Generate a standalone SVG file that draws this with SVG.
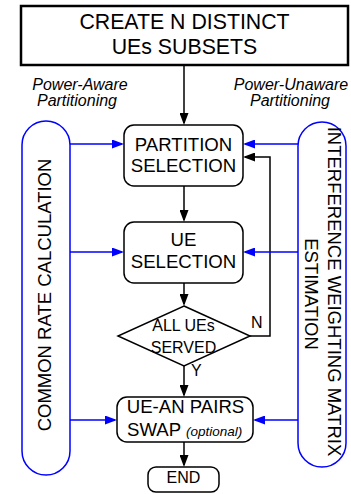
<svg xmlns="http://www.w3.org/2000/svg" width="351" height="494" viewBox="0 0 351 494">
  <style>
    text { font-family: "Liberation Sans", Arial, sans-serif; fill: #000; text-anchor: middle; }
    .big { font-size: 21.3px; }
    .lbl { font-size: 18.6px; }
    .side { font-size: 18.5px; }
    .small { font-size: 16px; }
    .ital { font-size: 16px; font-style: italic; }
    .box { fill: #fff; stroke: #000; stroke-width: 1.5; }
    .cap { fill: none; stroke: #0000ff; stroke-width: 1.5; }
    .flow { fill: none; stroke: #000; stroke-width: 1.5; marker-end: url(#ah); }
    .feed { fill: none; stroke: #0000ff; stroke-width: 1.5; marker-end: url(#ahb); }
  </style>
  <defs>
    <marker id="ah" viewBox="0 0 12 9" refX="10" refY="4.5" markerWidth="12" markerHeight="9" markerUnits="userSpaceOnUse" orient="auto">
      <path d="M0,0 L12,4.5 L0,9 z" fill="#000"/>
    </marker>
    <marker id="ahb" viewBox="0 0 12 9" refX="10" refY="4.5" markerWidth="12" markerHeight="9" markerUnits="userSpaceOnUse" orient="auto">
      <path d="M0,0 L12,4.5 L0,9 z" fill="#0000ff"/>
    </marker>
  </defs>

  <!-- partitioning labels -->
  <g id="labels">
    <text class="ital" x="80" y="90">Power-Aware</text>
    <text class="ital" x="77" y="106">Partitioning</text>
    <text class="ital" x="291" y="90">Power-Unaware</text>
    <text class="ital" x="290" y="106">Partitioning</text>
  </g>

  <!-- connectors -->
  <g id="connectors">
    <path class="flow" d="M184,65 V123"/>
    <path class="flow" d="M184,186 V220"/>
    <path class="flow" d="M184,283 V304"/>
    <path class="flow" d="M184,366 V395"/>
    <path class="flow" d="M184,442 V465"/>
    <path class="flow" d="M250,336 H270 V157 H245"/>
    <path class="feed" d="M70,144 H122"/>
    <path class="feed" d="M70,252 H122"/>
    <path class="feed" d="M70,420 H115"/>
    <path class="feed" d="M298,144 H245"/>
    <path class="feed" d="M298,252 H245"/>
    <path class="feed" d="M298,420 H255"/>
    <text class="small" x="251" y="328" style="text-anchor:start">N</text>
    <text class="small" x="191" y="376" style="text-anchor:start">Y</text>
  </g>

  <g id="create">
    <rect x="21" y="6" width="327" height="59" fill="#fff" stroke="#000" stroke-width="2.5"/>
    <text class="big" x="184.5" y="29">CREATE N DISTINCT</text>
    <text class="big" x="184.5" y="54">UEs SUBSETS</text>
  </g>

  <g id="common-rate">
    <rect class="cap" x="22" y="121" width="48" height="354" rx="24"/>
    <text class="side" transform="translate(51,295) rotate(-90)">COMMON RATE CALCULATION</text>
  </g>

  <g id="interference">
    <rect class="cap" x="298" y="122" width="48" height="345" rx="24"/>
    <text class="side" transform="translate(328,294) rotate(90)">
      <tspan x="0" y="0">INTERFERENCE WEIGHTING MATRIX</tspan>
      <tspan x="0" y="23">ESTIMATION</tspan>
    </text>
  </g>

  <g id="partition-selection">
    <rect class="box" x="124" y="125" width="119" height="61" rx="10"/>
    <text class="lbl" x="183.5" y="151">PARTITION</text>
    <text class="lbl" x="183.5" y="172">SELECTION</text>
  </g>

  <g id="ue-selection">
    <rect class="box" x="124" y="222" width="119" height="61" rx="10"/>
    <text class="lbl" x="183.5" y="246">UE</text>
    <text class="lbl" x="183.5" y="268">SELECTION</text>
  </g>

  <g id="all-served">
    <polygon class="box" points="184,306 250,336 184,366 118,336"/>
    <text class="small" x="183.5" y="331">ALL UEs</text>
    <text class="small" x="183.5" y="353">SERVED</text>
  </g>

  <g id="pairs-swap">
    <rect class="box" x="117" y="397" width="136" height="45" rx="10"/>
    <text class="lbl" x="185.5" y="413">UE-AN PAIRS</text>
    <text class="lbl" x="127" y="436" style="text-anchor:start">SWAP <tspan font-size="13.5" font-style="italic">(optional)</tspan></text>
  </g>

  <g id="end">
    <rect class="box" x="148" y="467" width="71" height="25" rx="8"/>
    <text class="small" x="183.5" y="483">END</text>
  </g>
</svg>
